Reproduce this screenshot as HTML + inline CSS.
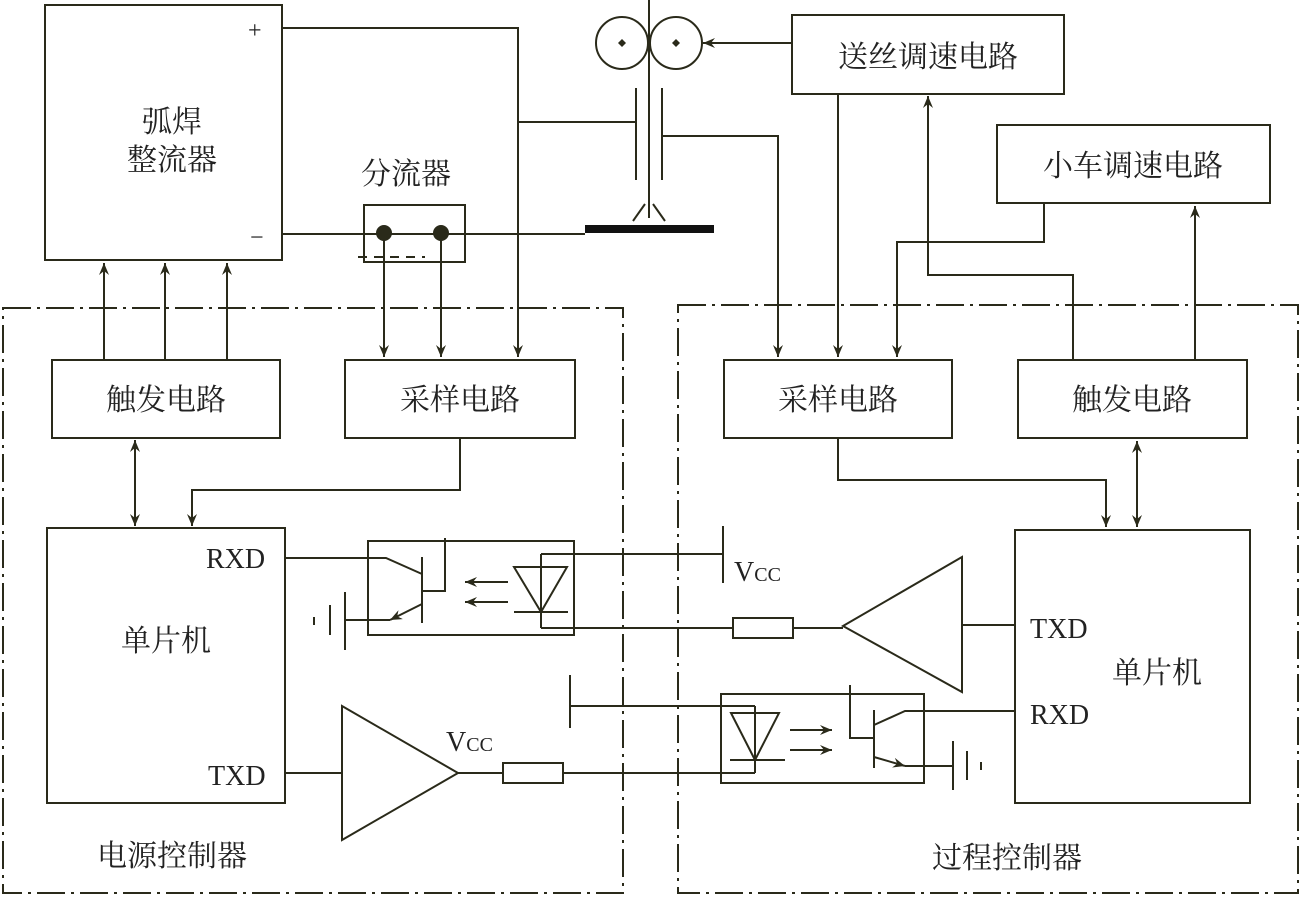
<!DOCTYPE html>
<html><head><meta charset="utf-8"><style>
html,body{margin:0;padding:0;background:#fff;}
svg{display:block;}
text{font-family:"Liberation Serif","Noto Serif CJK SC","Noto Sans CJK SC",serif;fill:#222;}
</style></head><body>
<svg width="1300" height="897" viewBox="0 0 1300 897" xmlns="http://www.w3.org/2000/svg">
<defs>
<marker id="a" viewBox="0 0 12 10" refX="12" refY="5" markerWidth="12" markerHeight="10" orient="auto" markerUnits="userSpaceOnUse">
<path d="M0,0 L12,5 L0,10 L4,5 Z" fill="#2a2a1a"/></marker>
</defs>
<g stroke="#2a2a1a" stroke-width="2" fill="none">
<g stroke-dasharray="28,6,3,6">
<path d="M3,308 H623 V893 H3 Z"/>
<path d="M678,305 H1298 V893 H678 Z"/>
</g>
<rect x="45" y="5" width="237" height="255"/>
<rect x="364" y="205" width="101" height="57"/>
<rect x="52" y="360" width="228" height="78"/>
<rect x="345" y="360" width="230" height="78"/>
<rect x="47" y="528" width="238" height="275"/>
<rect x="724" y="360" width="228" height="78"/>
<rect x="1018" y="360" width="229" height="78"/>
<rect x="792" y="15" width="272" height="79"/>
<rect x="997" y="125" width="273" height="78"/>
<rect x="1015" y="530" width="235" height="273"/>
<path d="M282,28 H518 V357" marker-end="url(#a)"/>
<path d="M518,122 H636"/>
<path d="M649,0 V205 M636,88 V180 M662,88 V180"/>
<circle cx="622" cy="43" r="26"/><circle cx="676" cy="43" r="26"/>
<path d="M662,136 H778 V357" marker-end="url(#a)"/>
<path d="M649,203 V218 M645,204 L633,221 M653,204 L665,221"/>
<path d="M282,234 H585"/>
<path d="M358,257 H425" stroke-dasharray="9,7"/>
<path d="M384,233 V357" marker-end="url(#a)"/>
<path d="M441,233 V357" marker-end="url(#a)"/>
<path d="M104,360 V263" marker-end="url(#a)"/>
<path d="M165,360 V263" marker-end="url(#a)"/>
<path d="M227,360 V263" marker-end="url(#a)"/>
<path d="M135,483 V526" marker-end="url(#a)"/>
<path d="M135,483 V440" marker-end="url(#a)"/>
<path d="M460,438 V490 H192 V526" marker-end="url(#a)"/>
<path d="M792,43 H703" marker-end="url(#a)"/>
<path d="M838,94 V357" marker-end="url(#a)"/>
<path d="M1044,203 V242 H897 V357" marker-end="url(#a)"/>
<path d="M1073,360 V275 H928 V96" marker-end="url(#a)"/>
<path d="M1195,360 V206" marker-end="url(#a)"/>
<path d="M838,438 V480 H1106 V527" marker-end="url(#a)"/>
<path d="M1137,483 V527" marker-end="url(#a)"/>
<path d="M1137,483 V441" marker-end="url(#a)"/>
<rect x="368" y="541" width="206" height="94"/>
<path d="M285,558 H386 L422,574"/>
<path d="M422,557 V623"/>
<path d="M445,538 V591 H422"/>
<path d="M422,604 L390,620" marker-end="url(#a)"/>
<path d="M390,620 H345"/>
<path d="M345,592 V650 M330,605 V635 M314,617 V625"/>
<path d="M508,582 H465" marker-end="url(#a)"/>
<path d="M508,602 H465" marker-end="url(#a)"/>
<path d="M514,567 H567 L541,612 Z M514,612 H568 M541,554 V628"/>
<path d="M541,554 H723 M723,526 V583"/>
<path d="M541,628 H733 M793,628 H843"/>
<rect x="733" y="618" width="60" height="20"/>
<path d="M843,626 L962,557 V692 Z M962,625 H1015"/>
<path d="M342,706 L458,773 L342,840 Z M285,773 H342 M458,773 H503 M563,773 H755"/>
<rect x="503" y="763" width="60" height="20"/>
<rect x="721" y="694" width="203" height="89"/>
<path d="M731,713 H779 L755,760 Z M730,760 H785 M755,706 V773 M755,706 H570 M570,675 V728"/>
<path d="M790,730 H832" marker-end="url(#a)"/>
<path d="M790,750 H832" marker-end="url(#a)"/>
<path d="M850,685 V738 H874 M874,710 V768 M874,725 L905,711 H1015"/>
<path d="M874,757 L905,766" marker-end="url(#a)"/>
<path d="M905,766 H953 M953,741 V790 M967,751 V780 M981,762 V770"/>
</g>
<rect x="585" y="225" width="129" height="8" fill="#111"/>
<circle cx="384" cy="233" r="8" fill="#2a2a1a"/><circle cx="441" cy="233" r="8" fill="#2a2a1a"/>
<path d="M622,39 L626,43 L622,47 L618,43 Z M676,39 L680,43 L676,47 L672,43 Z" fill="#2a2a1a"/>
<g font-size="30" text-anchor="middle">
<text x="172" y="132">弧焊</text>
<text x="172" y="170">整流器</text>
<text x="406" y="184">分流器</text>
<text x="166" y="410">触发电路</text>
<text x="460" y="410">采样电路</text>
<text x="838" y="410">采样电路</text>
<text x="1132" y="410">触发电路</text>
<text x="928" y="67">送丝调速电路</text>
<text x="1133" y="176">小车调速电路</text>
<text x="166" y="651">单片机</text>
<text x="1157" y="683">单片机</text>
<text x="172" y="866">电源控制器</text>
<text x="1007" y="868">过程控制器</text>
</g>
<g font-size="28">
<text x="248" y="38" font-size="24">+</text>
<text x="250" y="245" font-size="24">−</text>
<text x="206" y="568">RXD</text>
<text x="208" y="785">TXD</text>
<text x="1030" y="638">TXD</text>
<text x="1030" y="724">RXD</text>
<text x="734" y="581">V<tspan font-size="20">CC</tspan></text>
<text x="446" y="751">V<tspan font-size="20">CC</tspan></text>
</g>
</svg>
</body></html>
